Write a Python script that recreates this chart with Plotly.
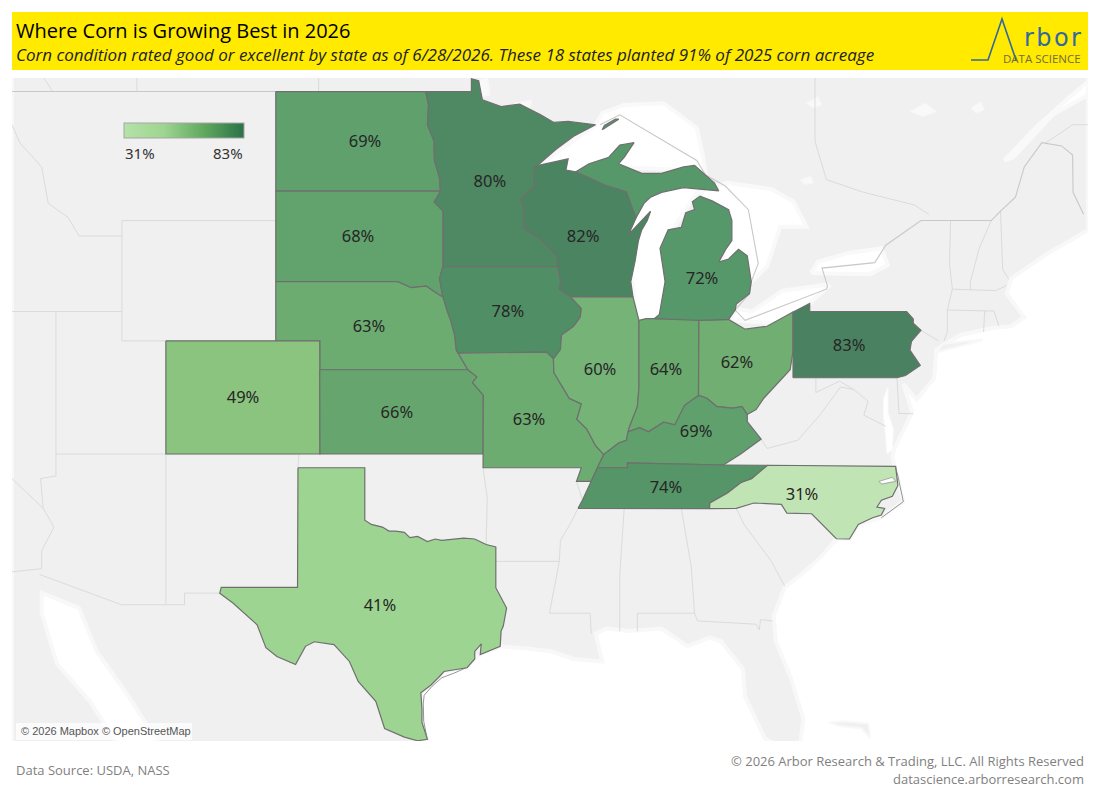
import math
import plotly.graph_objects as go
from plotly.colors import sample_colorscale

states = ['North Dakota', 'Minnesota', 'Wisconsin', 'South Dakota', 'Iowa', 'Nebraska', 'Colorado', 'Kansas',
          'Missouri', 'Illinois', 'Indiana', 'Ohio', 'Kentucky', 'Tennessee', 'North Carolina', 'Pennsylvania',
          'Michigan', 'Texas']
good_excellent = [69, 80, 82, 68, 78, 63, 49, 66, 63, 60, 64, 62, 69, 74, 31, 83, 72, 41]
label_lon = [-99.99, -94.31, -90.07, -100.31, -93.49, -99.81, -105.54, -98.54, -92.53, -89.30, -86.30, -83.07,
             -84.93, -86.30, -80.11, -77.97, -84.66, -99.31]
label_lat = [47.44, 46.19, 44.44, 44.44, 41.94, 41.44, 38.97, 38.44, 38.19, 39.97, 39.97, 40.21, 37.76, 35.72, 35.47,
             40.8, 43.07, 31.24]

# fill colours seen on the map, and the gradient of the legend
map_stops = [31, 41, 49, 60, 63, 69, 72, 78, 83]
map_colors = ['#c1e4b4', '#9ed491', '#8ac47e', '#75b377', '#6dac70', '#5fa06c', '#57986a', '#508f65', '#4a8160']
legend_colors = ['#b5e2a8', '#9ed590', '#60a85f', '#2a7247']

# state outlines, lon/lat
north_dakota = [(-104.05, 49), (-97.23, 49), (-97.1, 48.6), (-97.15, 48.0), (-96.85, 47.5), (-96.83, 46.9),
                (-96.6, 46.35), (-96.56, 45.94), (-104.05, 45.94)]
south_dakota = [(-104.05, 45.94), (-96.56, 45.94), (-96.85, 45.6), (-96.45, 45.3), (-96.45, 43.5), (-96.6, 43.1),
                (-96.45, 42.49), (-96.7, 42.6), (-97.2, 42.85), (-97.9, 42.8), (-98.5, 43.0), (-104.05, 43.0)]
nebraska = [(-104.05, 43), (-98.5, 43), (-97.9, 42.8), (-97.2, 42.85), (-96.7, 42.6), (-96.45, 42.49), (-96.25, 42.0),
            (-96.1, 41.7), (-95.92, 41.2), (-95.85, 40.7), (-95.31, 40.0), (-102.05, 40), (-102.05, 41), (-104.05, 41)]
kansas = [(-102.05, 40), (-95.31, 40), (-94.9, 39.75), (-95.1, 39.55), (-94.61, 39.11), (-94.62, 37), (-102.04, 37)]
colorado = [(-109.05, 41), (-102.05, 41), (-102.04, 37), (-109.05, 37)]
iowa = [(-96.45, 43.5), (-91.22, 43.5), (-91.1, 43.0), (-91.15, 42.75), (-90.65, 42.5), (-90.15, 42.1), (-90.2, 41.8),
        (-90.5, 41.5), (-91.05, 41.2), (-91.1, 40.7), (-91.42, 40.38), (-91.73, 40.61), (-95.77, 40.58), (-95.85, 40.7),
        (-95.92, 41.2), (-96.1, 41.7), (-96.25, 42.0), (-96.45, 42.49), (-96.6, 43.1)]
minnesota = [(-97.23, 49), (-95.15, 49), (-95.15, 49.38), (-94.82, 49.32), (-94.65, 48.75), (-93.8, 48.55), (-92.95, 48.62),
             (-92.0, 48.3), (-91.4, 48.07), (-90.75, 48.1), (-89.5, 48.0), (-90.5, 47.65), (-91.3, 47.25), (-92.1, 46.75),
             (-92.29, 46.66), (-92.29, 46.07), (-92.9, 45.7), (-92.75, 45.3), (-92.75, 44.75), (-92.0, 44.4), (-91.25, 43.85),
             (-91.22, 43.5), (-96.45, 43.5), (-96.45, 45.3), (-96.85, 45.6), (-96.56, 45.94), (-96.6, 46.35), (-96.83, 46.9),
             (-96.85, 47.5), (-97.15, 48.0), (-97.1, 48.6)]
wisconsin = [(-92.1, 46.75), (-91.2, 46.87), (-90.75, 46.95), (-90.85, 46.6), (-90.4, 46.55), (-89.1, 46.14), (-88.1, 45.92),
             (-87.8, 45.35), (-87.65, 45.1), (-88.0, 44.55), (-87.4, 45.0), (-87.0, 45.3), (-87.15, 45.0), (-87.4, 44.7), (-87.55, 44.35),
             (-87.7, 43.7), (-87.9, 43.0), (-87.8, 42.49), (-90.65, 42.5), (-91.15, 42.75), (-91.1, 43.0), (-91.22, 43.5), (-91.25, 43.85),
             (-92.0, 44.4), (-92.75, 44.75), (-92.75, 45.3), (-92.9, 45.7), (-92.29, 46.07), (-92.29, 46.66)]
illinois = [(-90.65, 42.5), (-87.8, 42.49), (-87.53, 41.7), (-87.53, 39.35), (-87.6, 38.7), (-87.95, 38.0), (-88.1, 37.5),
            (-88.45, 37.4), (-89.13, 36.98), (-89.5, 37.3), (-89.9, 37.9), (-90.35, 38.25), (-90.15, 38.8), (-90.7, 39.0),
            (-91.4, 39.9), (-91.42, 40.38), (-91.1, 40.7), (-91.05, 41.2), (-90.5, 41.5), (-90.2, 41.8), (-90.15, 42.1)]
indiana = [(-87.53, 41.7), (-87.2, 41.76), (-86.82, 41.76), (-84.8, 41.76), (-84.82, 39.1), (-85.45, 38.75), (-85.9, 38.05),
           (-86.4, 38.15), (-87.1, 37.8), (-87.5, 37.95), (-88.03, 37.8), (-87.95, 38.0), (-87.6, 38.7), (-87.53, 39.35)]
ohio = [(-84.8, 41.7), (-83.45, 41.73), (-82.7, 41.4), (-81.7, 41.5), (-80.52, 41.98), (-80.52, 40.64), (-80.65, 40.0),
        (-81.4, 39.4), (-81.85, 39.0), (-82.2, 38.6), (-82.6, 38.42), (-82.84, 38.7), (-83.25, 38.65), (-83.98, 38.7), (-84.44, 39.0),
        (-84.82, 39.1)]
kentucky = [(-89.42, 36.5), (-88.05, 36.5), (-88.05, 36.68), (-83.68, 36.6), (-82.9, 37.0), (-81.97, 37.54), (-82.6, 38.17),
            (-82.6, 38.42), (-82.84, 38.7), (-83.25, 38.65), (-83.98, 38.7), (-84.44, 39.0), (-84.82, 39.1), (-85.45, 38.75), (-85.9, 38.05),
            (-86.4, 38.15), (-87.1, 37.8), (-87.5, 37.95), (-88.03, 37.8), (-88.1, 37.5), (-88.45, 37.4), (-89.13, 36.98)]
tennessee = [(-90.3, 35.0), (-84.32, 34.99), (-84.3, 35.2), (-83.5, 35.57), (-82.9, 35.95), (-82.4, 36.1), (-81.68, 36.59),
             (-83.68, 36.6), (-88.05, 36.68), (-88.05, 36.5), (-89.42, 36.5), (-89.7, 36.0), (-90.1, 35.3)]
north_carolina = [(-84.32, 34.99), (-83.1, 35.0), (-82.3, 35.2), (-81.05, 35.15), (-80.8, 34.82), (-79.67, 34.8), (-78.55, 33.86),
                  (-77.95, 33.85), (-77.55, 34.4), (-76.9, 34.65), (-76.5, 34.75), (-76.35, 35.0), (-76.7, 35.05), (-76.5, 35.3), (-76.0, 35.45),
                  (-75.75, 35.85), (-75.85, 36.55), (-81.68, 36.59), (-82.4, 36.1), (-82.9, 35.95), (-83.5, 35.57), (-84.3, 35.2)]
pennsylvania = [(-80.52, 39.72), (-80.52, 41.98), (-79.76, 42.27), (-79.76, 42.0), (-75.35, 42.0), (-75.05, 41.75), (-75.05, 41.6),
                (-74.7, 41.36), (-75.13, 40.98), (-75.2, 40.68), (-74.73, 40.15), (-75.4, 39.8), (-75.79, 39.72)]
michigan_lower = [(-86.82, 41.76), (-84.8, 41.7), (-83.45, 41.73), (-83.15, 42.05), (-83.1, 42.25), (-82.5, 42.6), (-82.42, 43.0),
                  (-82.6, 43.85), (-83.0, 44.07), (-83.45, 43.75), (-83.9, 43.65), (-83.55, 44.1), (-83.3, 44.35), (-83.3, 45.0),
                  (-83.45, 45.35), (-84.2, 45.63), (-84.75, 45.78), (-85.1, 45.6), (-85.0, 45.35), (-85.4, 45.25), (-85.6, 44.78),
                  (-86.2, 44.7), (-86.57, 44.1), (-86.34, 43.0), (-86.6, 41.9)]
michigan_upper = [(-90.4, 46.55), (-89.8, 46.8), (-88.9, 47.0), (-88.4, 47.38), (-87.75, 47.45), (-88.2, 47.0), (-88.45, 46.8),
                  (-87.4, 46.5), (-86.5, 46.5), (-85.5, 46.7), (-85.0, 46.75), (-84.5, 46.45), (-84.1, 46.2), (-83.9, 45.95),
                  (-84.7, 46.0), (-85.5, 46.05), (-86.5, 45.9), (-86.7, 45.85), (-87.0, 45.75), (-87.3, 45.55), (-87.65, 45.1), (-87.8, 45.35),
                  (-88.1, 45.92), (-89.1, 46.14)]
isle_royale = [(-89.2, 47.85), (-88.45, 48.17), (-88.6, 48.17), (-89.1, 47.98)]
missouri = [(-95.77, 40.58), (-91.73, 40.61), (-91.42, 40.38), (-91.4, 39.9), (-90.7, 39.0), (-90.15, 38.8), (-90.35, 38.25),
            (-89.9, 37.9), (-89.5, 37.3), (-89.13, 36.98), (-89.42, 36.5), (-89.7, 36.0), (-90.37, 36.0), (-90.15, 36.5),
            (-94.62, 36.5), (-94.62, 37), (-94.61, 39.11), (-95.1, 39.55), (-94.9, 39.75), (-95.31, 40.0), (-95.85, 40.7)]
texas = [(-103.04, 36.5), (-100, 36.5), (-100, 34.56), (-99.7, 34.4), (-99.2, 34.3), (-98.9, 34.15), (-98.6, 34.15), (-98.2, 34.1),
         (-97.95, 33.9), (-97.6, 33.95), (-97.15, 33.75), (-96.8, 33.85), (-96.5, 33.8), (-96.0, 33.85), (-95.5, 33.88), (-95.0, 33.85),
         (-94.48, 33.64), (-94.04, 33.55), (-94.04, 31.99), (-93.55, 31.2), (-93.7, 30.5), (-93.8, 30.3), (-93.84, 29.7), (-94.75, 29.37),
         (-94.7, 29.8), (-95.0, 29.5), (-95.0, 29.2), (-95.35, 28.85), (-96.4, 28.7), (-96.6, 28.5), (-97.0, 28.15), (-97.45, 27.85), (-97.4, 27.2),
         (-97.4, 26.65), (-97.15, 25.96), (-97.6, 25.9), (-98.2, 26.05), (-99.1, 26.4), (-99.5, 27.5), (-100.3, 28.3), (-100.7, 29.1),
         (-101.4, 29.77), (-102.3, 29.88), (-102.7, 29.7), (-103.15, 28.98), (-104.0, 29.3), (-104.5, 29.65), (-104.9, 30.55), (-106.0, 31.4),
         (-106.6, 31.78), (-106.53, 32.0), (-103.06, 32.0)]

state_shapes = {'North Dakota': [north_dakota], 'Minnesota': [minnesota], 'Wisconsin': [wisconsin], 'South Dakota': [south_dakota],
                'Iowa': [iowa], 'Nebraska': [nebraska], 'Colorado': [colorado], 'Kansas': [kansas], 'Missouri': [missouri],
                'Illinois': [illinois], 'Indiana': [indiana], 'Ohio': [ohio], 'Kentucky': [kentucky], 'Tennessee': [tennessee],
                'North Carolina': [north_carolina], 'Pennsylvania': [pennsylvania],
                'Michigan': [michigan_lower, michigan_upper, isle_royale], 'Texas': [texas]}

# thin barrier islands on the coast
barrier_islands = [[(-97.17, 26.0), (-97.32, 26.7), (-97.34, 27.4), (-97.3, 27.75), (-96.95, 28.1), (-96.5, 28.45), (-95.9, 28.65), (-95.4, 28.85)],
                   [(-75.87, 36.55), (-75.75, 36.2), (-75.5, 35.25), (-76.5, 34.65)]]

# base map: land, water and the faint borders
land = [(-116.05, 49.5), (-67.1, 49.5), (-67.1, 44.7), (-69, 43.9), (-70.6, 43.1), (-70.8, 42.6), (-70.0, 41.8), (-70.6, 41.5),
        (-71.4, 41.45), (-72.9, 41.2), (-74, 40.7), (-74.1, 39.7), (-74.9, 38.95), (-75.5, 39.5), (-75.1, 38.5), (-75.9, 37.2),
        (-76, 36.9), (-75.9, 36.55), (-75.5, 35.25), (-76.5, 34.65), (-77.55, 34.4), (-77.95, 33.85), (-78.55, 33.86), (-79.2, 33.2),
        (-80.0, 32.6), (-80.9, 32.0), (-81.4, 30.9), (-81.3, 29.9), (-80.6, 28.4), (-80.05, 26.8), (-80.2, 25.7), (-81.2, 25.7),
        (-81.8, 26), (-82.7, 27.7), (-82.8, 28.8), (-83.8, 29.9), (-84.3, 30.05), (-85.3, 29.7), (-86.5, 30.4), (-88, 30.3),
        (-89, 30.4), (-89.5, 30.2), (-89.2, 29.1), (-90.5, 29.2), (-91.5, 29.5), (-92.5, 29.6), (-93.84, 29.7), (-94.75, 29.37),
        (-95.0, 29.2), (-95.35, 28.85), (-96.4, 28.7), (-96.6, 28.5), (-97.0, 28.15), (-97.45, 27.85), (-97.4, 27.2), (-97.4, 26.65),
        (-97.15, 25.96), (-97.4, 25.7), (-109.3, 25.7), (-110.9, 27.9), (-112.2, 29.5), (-113, 31.2), (-114.7, 31.8), (-114.7, 31),
        (-114.0, 29), (-112.5, 27.5), (-111.2, 25.7), (-116.05, 25.7)]
islands = [[(-74, 40.6), (-72, 41.0), (-71.9, 41.05), (-73.7, 40.9)],
           [(-78.9, 26.65), (-78.2, 26.7), (-77.1, 26.6), (-77.0, 26.0), (-77.4, 26.4), (-78.4, 26.5)]]
superior = [(-92.1, 46.72), (-89.5, 48.0), (-89.2, 48.35), (-88.2, 48.6), (-86.4, 48.65), (-84.9, 47.9), (-84.6, 47.0), (-84.5, 46.5),
            (-85.5, 46.6), (-88.5, 46.7), (-90.5, 46.5)]
huron = [(-84.6, 46.0), (-83.5, 46.2), (-81.5, 46.0), (-80.5, 45.6), (-79.9, 44.8), (-81.1, 44.8), (-81.7, 43.5), (-82.4, 43.0),
         (-83.5, 43.5), (-84.0, 44.5), (-84.8, 45.7)]
michigan_lake = [(-87.6, 41.6), (-87, 41.55), (-86.4, 41.9), (-86.1, 43), (-86.4, 44), (-85.9, 44.8), (-84.9, 45.9), (-84.5, 46),
                 (-85.5, 46.1), (-86.8, 45.9), (-87.6, 45.3), (-88.1, 44.5), (-87.9, 43.5)]
erie = [(-83.4, 41.7), (-83.1, 42.1), (-82.4, 42.0), (-81, 42.7), (-79, 42.9), (-78.9, 42.85), (-79.8, 42.25), (-81.2, 41.6)]
ontario = [(-79.7, 43.3), (-79.4, 43.65), (-78, 43.95), (-76.5, 44.1), (-76.2, 43.55), (-77, 43.25), (-79, 43.27)]
st_lawrence = [(-70.9, 46.9), (-69.5, 47.9), (-68, 48.8), (-67.1, 49.3), (-67.1, 48.9), (-68.7, 48.3), (-70.5, 47.0)]
chesapeake = [(-76.2, 39.4), (-76.4, 39.0), (-76.4, 38.3), (-76.3, 37.6), (-76.25, 37.0), (-76.0, 37.15), (-75.95, 37.9), (-76.2, 38.5)]
albemarle = [(-76.6, 36.0), (-76.0, 36.15), (-75.85, 36.0), (-76.5, 35.9)]
water = [superior, huron, michigan_lake, erie, ontario, st_lawrence]
small_lakes = [[(-72.4, 48.5), (-72.0, 48.7), (-71.8, 48.45), (-72.2, 48.35)],
               [(-75.2, 48.4), (-74.5, 48.65), (-74.0, 48.4), (-74.6, 48.25)],
               [(-79.9, 48.65), (-79.4, 48.85), (-79.2, 48.6), (-79.6, 48.5)],
               [(-80.2, 46.3), (-79.7, 46.4), (-79.6, 46.2), (-80.0, 46.15)],
               [(-95.2, 49.3), (-94.4, 49.4), (-94.3, 48.9), (-94.9, 48.8)],
               [(-93.2, 48.65), (-92.4, 48.75), (-92.5, 48.45), (-93.0, 48.5)]]

# 49th parallel and the Great Lakes / Quebec lines are a bit stronger than the state lines
canada_border = [[(-116.05, 49), (-95.15, 49)],
                 [(-89.3, 48.0), (-88.4, 48.3), (-84.9, 46.9), (-84.5, 46.45), (-83.6, 46.1), (-82.55, 45.35), (-82.1, 43.6), (-82.42, 43),
                  (-82.5, 42.6), (-83.15, 42.05), (-82.7, 41.7), (-79, 42.75), (-78.95, 42.85), (-79.2, 43.45), (-76.8, 43.63),
                  (-76.3, 44.2), (-74.7, 45), (-71.5, 45), (-71.08, 45.3), (-70.4, 45.75), (-70.0, 46.7), (-69.2, 47.45), (-68.3, 47.35),
                  (-67.8, 47.07), (-67.78, 45.9), (-67.3, 45.2)]]
state_lines = [[(-116.05, 48), (-115.7, 47.45), (-114.7, 46.7), (-114.4, 45.55), (-113.5, 45.1), (-113, 44.5), (-111.05, 44.5)],
               [(-111.05, 45), (-104.05, 45)], [(-104.05, 49), (-104.05, 41)], [(-111.05, 45), (-111.05, 41), (-109.05, 41)],
               [(-116.05, 42), (-111.05, 42)], [(-114.05, 42), (-114.05, 36.2), (-114.75, 36.1), (-114.63, 35), (-114.14, 34.3),
                                                (-114.7, 33.4), (-114.7, 32.72), (-116.05, 32.6)],
               [(-114.63, 35), (-116.05, 36.1)], [(-114.05, 37), (-103, 37)], [(-109.05, 37), (-109.05, 31.33), (-108.2, 31.33),
                                                                                (-108.2, 31.78), (-106.53, 31.78)],
               [(-109.05, 31.33), (-111.07, 31.33), (-114.8, 32.5)], [(-103, 37), (-103.04, 36.5)], [(-103.04, 36.5), (-100, 36.5)],
               [(-94.62, 36.5), (-94.43, 35.4), (-94.48, 33.64)], [(-94.04, 33), (-91.15, 33)], [(-90.3, 35), (-90.6, 34.5), (-91.1, 33.8),
                                                                                                  (-91.15, 33), (-91.6, 31), (-89.75, 31), (-89.7, 30.2)],
               [(-90.37, 36), (-90.1, 35.3)], [(-88.2, 35), (-88.4, 32.5), (-88.4, 30.3)], [(-85.6, 35), (-85.15, 32.8), (-85, 31)],
               [(-87.6, 30.3), (-87.6, 31), (-85, 31), (-84.86, 30.7), (-82.2, 30.57), (-82.05, 30.36), (-82.0, 30.75), (-81.45, 30.7)],
               [(-83.1, 35), (-82.75, 34.4), (-81.5, 33), (-80.9, 32.05)], [(-81.97, 37.54), (-81.7, 37.2), (-80.3, 37.5), (-79.3, 38.4),
                                                                             (-78.35, 39.4), (-77.75, 39.3)],
               [(-79.48, 39.72), (-79.48, 39.2), (-78.4, 39.6), (-77.75, 39.3), (-77.1, 38.9), (-77.3, 38.4), (-76.3, 38)],
               [(-75.79, 39.72), (-75.7, 38.46), (-75.05, 38.45)], [(-74.7, 41.36), (-73.9, 41)], [(-73.35, 45), (-73.4, 43.6), (-73.27, 42.75),
                                                                                                    (-73.5, 42.05), (-73.5, 41.3), (-73.65, 41)],
               [(-73.5, 42.05), (-71.8, 42.02), (-71.85, 41.3)], [(-71.8, 42.02), (-71.38, 42.02), (-71.15, 41.5)],
               [(-73.27, 42.75), (-71.3, 42.7), (-70.8, 42.87)], [(-71.5, 45), (-72.05, 44.1), (-72.45, 43), (-72.45, 42.73)],
               [(-71.08, 45.3), (-70.98, 43.4), (-70.7, 43.08)], [(-79.52, 49.5), (-79.52, 47.5), (-79.0, 46.3), (-77.3, 45.9), (-75.0, 45.5),
                                                                   (-74.34, 45.2)], [(-69.05, 47.43), (-67.8, 48.0), (-67.1, 48.0)],
               [(-110.37, 49.5), (-110.37, 49)], [(-102.1, 49.5), (-102.1, 49)], [(-114.7, 49.5), (-114.2, 49)]]


def merc(lat):
    return math.degrees(math.log(math.tan(math.radians(45 + lat / 2))))


def line_xy(parts):
    xs, ys = [], []
    for part in parts:
        xs += [p[0] for p in part] + [None]
        ys += [merc(p[1]) for p in part] + [None]
    return xs, ys


def polygon(points, fill, line_color, line_width, name=None):
    return go.Scatter(x=[p[0] for p in points] + [points[0][0]], y=[merc(p[1]) for p in points] + [merc(points[0][1])],
                      mode='lines', fill='toself', fillcolor=fill, line=dict(color=line_color, width=line_width),
                      hoverinfo='text' if name else 'skip', text=name, showlegend=False)


# paper coordinates run over the plot area, which is 12..1088 by 78..741 in the picture
def fx(px):
    return (px - 12) / 1076


def fy(py):
    return 1 - (py - 78) / 663


scale = [[(v - 31) / 52, c] for v, c in zip(map_stops, map_colors)]
legend_scale = [[i / (len(legend_colors) - 1), c] for i, c in enumerate(legend_colors)]

fig = go.Figure()

fig.add_trace(polygon(land, '#f0f0f0', '#f8f8f8', 4))
for isl in islands:
    fig.add_trace(polygon(isl, '#f0f0f0', '#f8f8f8', 2))
for lake in water:
    fig.add_trace(polygon(lake, '#ffffff', '#f9f9f9', 4))
for lake in small_lakes:
    fig.add_trace(polygon(lake, '#f9f9f9', '#f7f7f7', 1))
fig.add_trace(polygon(chesapeake, '#ffffff', '#f9f9f9', 1))

xs, ys = line_xy(state_lines)
fig.add_trace(go.Scatter(x=xs, y=ys, mode='lines', line=dict(color='#d8d8d8', width=0.9), hoverinfo='skip', showlegend=False))
xs, ys = line_xy(canada_border)
fig.add_trace(go.Scatter(x=xs, y=ys, mode='lines', line=dict(color='#c8c8c8', width=1.1), hoverinfo='skip', showlegend=False))

for state, value in zip(states, good_excellent):
    color = sample_colorscale(scale, (value - 31) / 52, colortype='rgb')[0]
    for part in state_shapes[state]:
        fig.add_trace(polygon(part, color, '#6f6f6f', 1.2, f'{state}: {value}%'))
fig.add_trace(polygon(albemarle, '#ffffff', '#7a7a7a', 0.6))
xs, ys = line_xy(barrier_islands)
fig.add_trace(go.Scatter(x=xs, y=ys, mode='lines', line=dict(color='#7a7a7a', width=0.8), hoverinfo='skip', showlegend=False))

fig.add_trace(go.Scatter(x=label_lon, y=[merc(v) for v in label_lat], mode='text', text=[f'{v}%' for v in good_excellent],
                         textfont=dict(family='Noto Sans', size=16.5, color='#262626'), hoverinfo='skip', showlegend=False))

# only here for the colour legend
fig.add_trace(go.Scatter(x=[-110, -110], y=[60, 60], mode='markers', hoverinfo='skip', showlegend=False,
                         marker=dict(size=1, opacity=0, color=[31, 83], cmin=31, cmax=83, colorscale=legend_scale,
                                     colorbar=dict(orientation='h', x=fx(124), xanchor='left', y=fy(123), yanchor='top',
                                                   len=120, lenmode='pixels', thickness=15, thicknessmode='pixels',
                                                   outlinecolor='#a5a5a5', outlinewidth=1, showticklabels=False, ticks='',
                                                   xpad=0, ypad=0))))

font = 'Open Sans'
annotations = [
    dict(text='Where Corn is Growing Best in 2026', x=fx(14), y=fy(30), xanchor='left', font=dict(family=font, size=20, color='#000000')),
    dict(text='<i>Corn condition rated good or excellent by state as of 6/28/2026. These 18 states planted 91% of 2025 corn acreage</i>',
         x=fx(14), y=fy(55), xanchor='left', font=dict(family=font, size=17, color='#222222')),
    dict(text='r\u200ab\u200ao\u200ar', x=fx(1083), y=fy(38), xanchor='right', font=dict(family='DejaVu Sans', size=24, color='#33689f')),
    dict(text='DATA SCIENCE', x=fx(1083), y=fy(58), xanchor='right', font=dict(family=font, size=11.5, color='#6f6c42')),
    dict(text='31%', x=fx(123), y=fy(153), xanchor='left', font=dict(family='Noto Sans', size=15, color='#333333')),
    dict(text='83%', x=fx(245), y=fy(153), xanchor='right', font=dict(family='Noto Sans', size=15, color='#333333')),
    dict(text='© 2026 Mapbox © OpenStreetMap', x=fx(19), y=fy(731), xanchor='left', font=dict(family='Liberation Sans', size=11, color='#555555')),
    dict(text='Data Source: USDA, NASS', x=fx(14), y=fy(770), xanchor='left', font=dict(family=font, size=13, color='#7f7f7f')),
    dict(text='© 2026 Arbor Research & Trading, LLC. All Rights Reserved', x=fx(1086), y=fy(761), xanchor='right', font=dict(family=font, size=13, color='#7f7f7f')),
    dict(text='datascience.arborresearch.com', x=fx(1086), y=fy(779), xanchor='right', font=dict(family=font, size=13, color='#7f7f7f')),
]
for a in annotations:
    a.update(xref='paper', yref='paper', showarrow=False, yanchor='middle')

logo = 'M {} {} L {} {} L {} {} L {} {}'.format(fx(971), fy(60), fx(988), fy(60), fx(1002), fy(19), fx(1016), fy(60))
shapes = [
    dict(type='rect', xref='paper', yref='paper', x0=fx(12), x1=fx(1088), y0=fy(12), y1=fy(70), fillcolor='#ffea00', line_width=0, layer='below'),
    dict(type='path', xref='paper', yref='paper', path=logo, line=dict(color='#33689f', width=1.6)),
    dict(type='rect', xref='paper', yref='paper', x0=fx(16), x1=fx(192), y0=fy(723), y1=fy(740), fillcolor='rgba(255,255,255,0.75)', line_width=0),
]

fig.update_layout(width=1100, height=800, autosize=False, margin=dict(l=12, r=12, t=78, b=59), paper_bgcolor='white', plot_bgcolor='white',
                  xaxis=dict(range=[-116.05, -67.10], visible=False, fixedrange=True),
                  yaxis=dict(range=[26.82, 56.985], visible=False, fixedrange=True),
                  annotations=annotations, shapes=shapes, showlegend=False)
fig.write_html("out.html", post_script="document.body.style.margin='0';", config=dict(displayModeBar=False))
